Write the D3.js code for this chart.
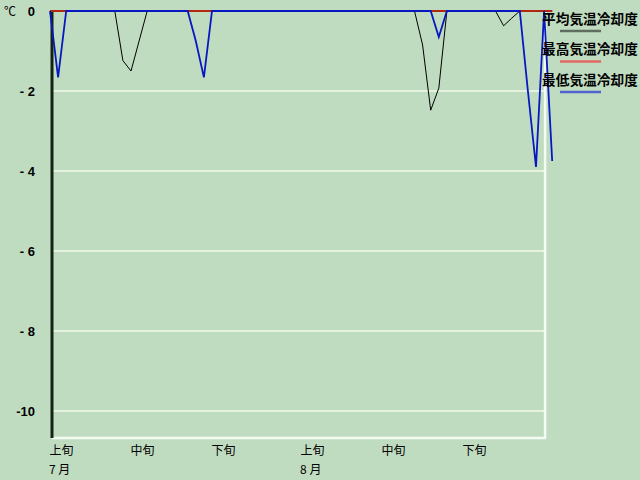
<!DOCTYPE html>
<html>
<head>
<meta charset="utf-8">
<script src="https://cdn.jsdelivr.net/npm/d3@7"></script>
<style>
  body { margin: 0; background: #c0dcc0; }
  svg { display: block; }
</style>
</head>
<body>
<div id="chart"></div>
<script>
// daily values, 7/1 .. 9/1
var avgCool = [0, 0, 0, 0, 0, 0, 0, 0, 0, -1.24,
  -1.5, -0.75, 0, 0, 0, 0, 0, 0, 0, 0,
  0, 0, 0, 0, 0, 0, 0, 0, 0, 0,
  0, 0, 0, 0, 0, 0, 0, 0, 0, 0,
  0, 0, 0, 0, 0, 0, -0.85, -2.48, -1.93, 0,
  0, 0, 0, 0, 0, 0, -0.37, -0.18, 0, 0,
  0, 0, 0];
var maxCool = [0, 0, 0, 0, 0, 0, 0, 0, 0, 0,
  0, 0, 0, 0, 0, 0, 0, 0, 0, 0,
  0, 0, 0, 0, 0, 0, 0, 0, 0, 0,
  0, 0, 0, 0, 0, 0, 0, 0, 0, 0,
  0, 0, 0, 0, 0, 0, 0, 0, 0, 0,
  0, 0, 0, 0, 0, 0, 0, 0, 0, 0,
  0, 0, 0];
var minCool = [0, -1.66, 0, 0, 0, 0, 0, 0, 0, 0,
  0, 0, 0, 0, 0, 0, 0, 0, -0.75, -1.66,
  0, 0, 0, 0, 0, 0, 0, 0, 0, 0,
  0, 0, 0, 0, 0, 0, 0, 0, 0, 0,
  0, 0, 0, 0, 0, 0, 0, 0, -0.65, 0,
  0, 0, 0, 0, 0, 0, 0, 0, 0, -2.0,
  -3.9, 0, -3.75];

var periodTicks = [0, 10, 20, 31, 41, 51];
var periodLabels = ["上旬", "中旬", "下旬", "上旬", "中旬", "下旬"];
var monthTicks = [0, 31];
var monthLabels = ["7 月", "8 月"];
var yTicks = [0, -2, -4, -6, -8, -10];

var seriesNames = ["平均気温冷却度", "最高気温冷却度", "最低気温冷却度"];
var seriesColors = ["#000000", "#b02810", "#0818c0"];
var legendColors = ["#5e6e5e", "#e06a62", "#5262cc"];

var width = 640, height = 480;
var plotLeft = 52, plotTop = 11, plotBottom = 438;

var svg = d3.select("#chart").append("svg")
  .attr("width", width)
  .attr("height", height);

svg.append("rect")
  .attr("width", width)
  .attr("height", height)
  .attr("fill", "#c0dcc0");

var x = d3.scaleLinear()
  .domain([0, 61])
  .range([50, 544.1]);

var y = d3.scaleLinear()
  .domain([-10.675, 0])
  .range([plotBottom, plotTop]);

var plotRight = x(61) + 1;

// grid lines
svg.append("g")
  .selectAll("line")
  .data(yTicks.filter(d => d !== 0))
  .enter()
  .append("line")
    .attr("x1", plotLeft)
    .attr("x2", plotRight)
    .attr("y1", d => y(d))
    .attr("y2", d => y(d))
    .attr("stroke", "#e4f2e0")
    .attr("stroke-width", 2);

// frame: white right/bottom, dark left
svg.append("line")
  .attr("x1", plotLeft).attr("x2", plotRight + 1)
  .attr("y1", plotBottom).attr("y2", plotBottom)
  .attr("stroke", "#f4fbf2").attr("stroke-width", 2.5);
svg.append("line")
  .attr("x1", plotRight).attr("x2", plotRight)
  .attr("y1", plotTop).attr("y2", plotBottom)
  .attr("stroke", "#f4fbf2").attr("stroke-width", 2.5);
svg.append("line")
  .attr("x1", plotLeft).attr("x2", plotLeft)
  .attr("y1", plotTop).attr("y2", plotBottom)
  .attr("stroke", "#142414").attr("stroke-width", 3);

// y axis
var yAxis = g => g
  .attr("transform", `translate(35,0)`)
  .call(d3.axisLeft(y).tickValues(yTicks).tickSize(0)
    .tickFormat(d => d === 0 ? "0" : (d === -10 ? "-10" : "- " + (-d))))
  .call(g => g.select(".domain").remove())
  .call(g => g.selectAll("text")
    .attr("x", 0)
    .attr("dy", "0.35em")
    .attr("fill", "#000")
    .style("font-family", "'Liberation Sans', Arial, sans-serif")
    .style("font-weight", "bold")
    .style("font-size", "13px"));

svg.append("g").call(yAxis);

svg.append("text")
  .attr("x", 4)
  .attr("y", 16)
  .style("font-family", "'Noto Sans CJK JP', sans-serif")
  .style("font-size", "12px")
  .attr("fill", "#000")
  .text("℃");

// x axis labels
var xAxis = g => g
  .attr("transform", `translate(0,${plotBottom})`)
  .call(d3.axisBottom(x).tickValues(periodTicks).tickSize(0)
    .tickFormat((d, i) => periodLabels[i]))
  .call(g => g.select(".domain").remove())
  .call(g => g.selectAll("text")
    .attr("y", 13)
    .attr("dx", -1)
    .attr("dy", "0.35em")
    .attr("text-anchor", "start")
    .attr("fill", "#000")
    .style("font-family", "'Noto Sans CJK JP', sans-serif")
    .style("font-size", "12px"));

svg.append("g").call(xAxis);

svg.append("g")
  .selectAll("text")
  .data(monthTicks)
  .enter()
  .append("text")
    .attr("x", d => x(d) - 1)
    .attr("y", plotBottom + 32)
    .attr("dy", "0.35em")
    .attr("fill", "#000")
    .style("font-family", "'Noto Sans CJK JP', sans-serif")
    .style("font-size", "12px")
    .text((d, i) => monthLabels[i]);

// series
var line = d3.line()
  .x((d, i) => x(i))
  .y(d => y(d));

var series = [avgCool, maxCool, minCool];
var widths = [1, 2, 1.8];

svg.append("g")
  .selectAll("path")
  .data(series)
  .enter()
  .append("path")
    .attr("d", d => line(d))
    .attr("fill", "none")
    .attr("stroke", (d, i) => seriesColors[i])
    .attr("stroke-width", (d, i) => widths[i]);

// legend
var legend = svg.append("g")
  .selectAll("g")
  .data(seriesNames)
  .enter()
  .append("g")
    .attr("transform", (d, i) => `translate(542,${19 + i * 30.5})`);

legend.append("text")
  .attr("dy", "0.35em")
  .attr("fill", "#000")
  .style("font-family", "'Noto Sans CJK JP', sans-serif")
  .style("font-weight", "bold")
  .style("font-size", "13.7px")
  .text(d => d);

legend.append("line")
  .attr("x1", 18)
  .attr("x2", 59)
  .attr("y1", 12)
  .attr("y2", 12)
  .attr("stroke", (d, i) => legendColors[i])
  .attr("stroke-width", 2.5);
</script>
</body>
</html>
